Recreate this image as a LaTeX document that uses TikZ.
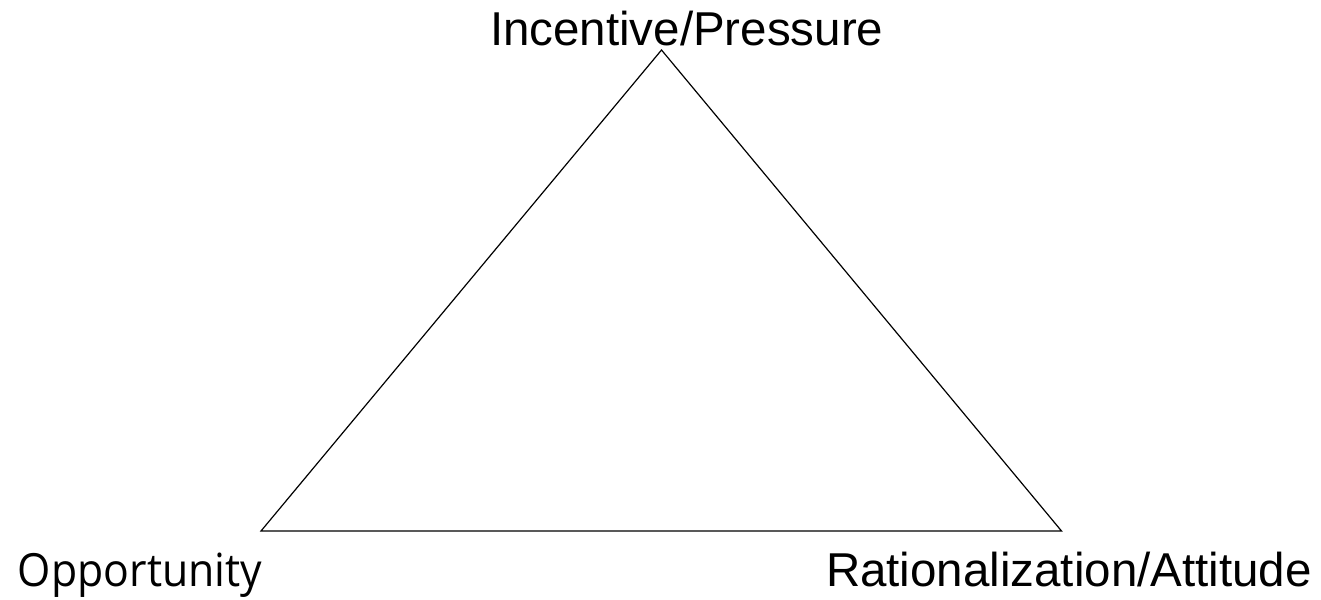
\documentclass[tikz,border=0pt]{standalone}
\usepackage{graphicx}
\usepackage{fontspec}
\setmainfont{Liberation Sans}
\newfontfamily\oppfont{Open Sans}
\tikzset{
  lbl/.style={anchor=base west, inner sep=0pt, outer sep=0pt},
  tri/.style={draw=black, line width=0.6pt, line join=miter}
}
\newcommand{\arialtxt}[1]{{\fontsize{23.75}{28}\selectfont #1}}
\begin{document}
\begin{tikzpicture}[x=0.5pt,y=-0.5pt]
\useasboundingbox (0,0) rectangle (1321,599);
\coordinate (top) at (661.5,50);
\coordinate (bl) at (261,531);
\coordinate (br) at (1061.5,531);
\draw[tri] (top) -- (br) -- (bl) -- cycle;
\node[lbl] (inc) at (490,45.5) {\arialtxt{Incentive/Pressure}};
\node[lbl] (opp) at (18,586) {\scalebox{0.936}[1]{\fontsize{22.85}{27}\oppfont Opportunity}};
\node[lbl] (rat) at (826,586.5) {\arialtxt{Rationalization/Attitude}};
\end{tikzpicture}
\end{document}
